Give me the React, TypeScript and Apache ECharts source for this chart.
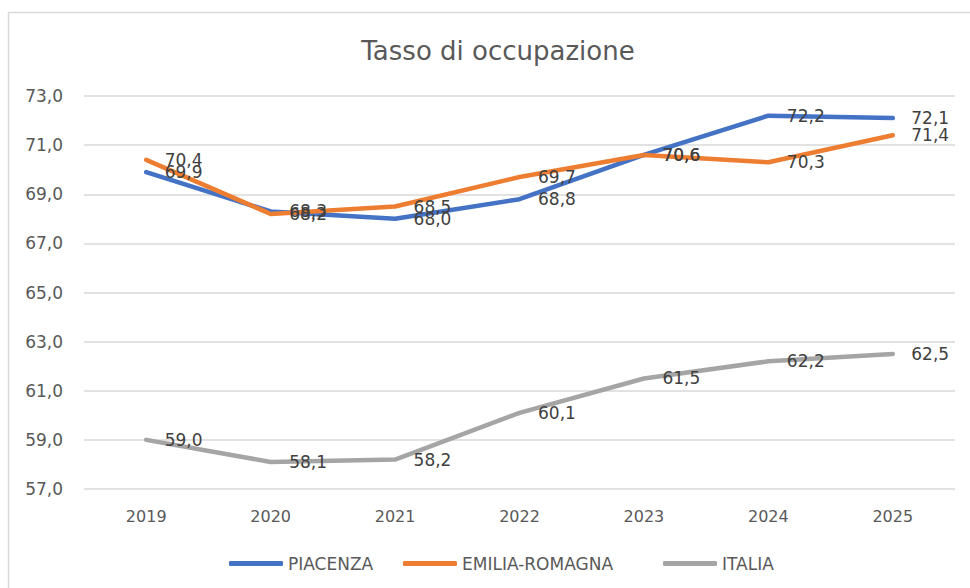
import React, { useEffect, useRef } from "react";
import * as echarts from "echarts";

const years = ["2019", "2020", "2021", "2022", "2023", "2024", "2025"];
const piacenza = [69.9, 68.3, 68.0, 68.8, 70.6, 72.2, 72.1];
const emiliaRomagna = [70.4, 68.2, 68.5, 69.7, 70.6, 70.3, 71.4];
const italia = [59.0, 58.1, 58.2, 60.1, 61.5, 62.2, 62.5];
const seriesNames = ["PIACENZA", "EMILIA-ROMAGNA", "ITALIA"];
const seriesColors = ["#4472C4", "#ED7D31", "#A5A5A5"];
const legendLefts = [224, 398, 658];

const FONT = "DejaVu Sans";
const fmt = (v: number) => v.toFixed(1).replace(".", ",");

export default function App() {
  const ref = useRef<HTMLDivElement>(null);
  useEffect(() => {
    if (!ref.current) return;
    const chart = echarts.init(ref.current, undefined, { renderer: "svg" });
    const dataSets = [piacenza, emiliaRomagna, italia];
    chart.setOption({
      animation: false,
      backgroundColor: "#ffffff",
      textStyle: { fontFamily: FONT },
      title: {
        text: "Tasso di occupazione",
        left: 493,
        top: 33,
        textAlign: "center",
        textStyle: { fontFamily: FONT, fontSize: 26, fontWeight: "normal", color: "#595959" },
      },
      graphic: [
        {
          type: "rect",
          shape: { x: 8.5, y: 12.5, width: 1000, height: 1000 },
          style: { fill: "none", stroke: "#d9d9d9", lineWidth: 1.5 },
          silent: true,
        },
      ],
      legend: seriesNames.map((n, i) => ({
        left: legendLefts[i],
        top: 550,
        itemWidth: 54,
        itemHeight: 5,
        icon: "roundRect",
        selectedMode: false,
        textStyle: { fontFamily: FONT, fontSize: 17, color: "#595959" },
        data: [{ name: n, itemStyle: { color: seriesColors[i] } }],
      })),
      grid: { left: 84, right: 15, top: 96, bottom: 99 },
      xAxis: {
        type: "category",
        data: years,
        boundaryGap: true,
        axisLine: { show: false },
        axisTick: { show: false },
        axisLabel: { fontFamily: FONT, fontSize: 16, color: "#595959", margin: 19 },
      },
      yAxis: {
        type: "value",
        min: 57,
        max: 73,
        interval: 2,
        axisLine: { show: false },
        axisTick: { show: false },
        splitLine: { lineStyle: { color: "#d9d9d9", width: 1.5 } },
        axisLabel: {
          fontFamily: FONT,
          fontSize: 17,
          color: "#595959",
          margin: 21,
          formatter: (v: number) => fmt(v),
        },
      },
      series: seriesNames.map((name, i) => ({
        name,
        type: "line",
        data: dataSets[i],
        symbol: "circle",
        symbolSize: 1,
        itemStyle: { color: seriesColors[i] },
        lineStyle: { color: seriesColors[i], width: 4.5, cap: "round", join: "round" },
        label: {
          show: true,
          position: "right",
          distance: 18,
          fontFamily: FONT,
          fontSize: 17,
          color: "#404040",
          formatter: (p: any) => fmt(p.value),
        },
        labelLayout: { hideOverlap: false },
        emphasis: { disabled: true },
      })),
    });
    return () => chart.dispose();
  }, []);
  return (
    <div
      ref={ref}
      style={{ position: "fixed", left: 0, top: 0, width: 970, height: 588 }}
    />
  );
}
